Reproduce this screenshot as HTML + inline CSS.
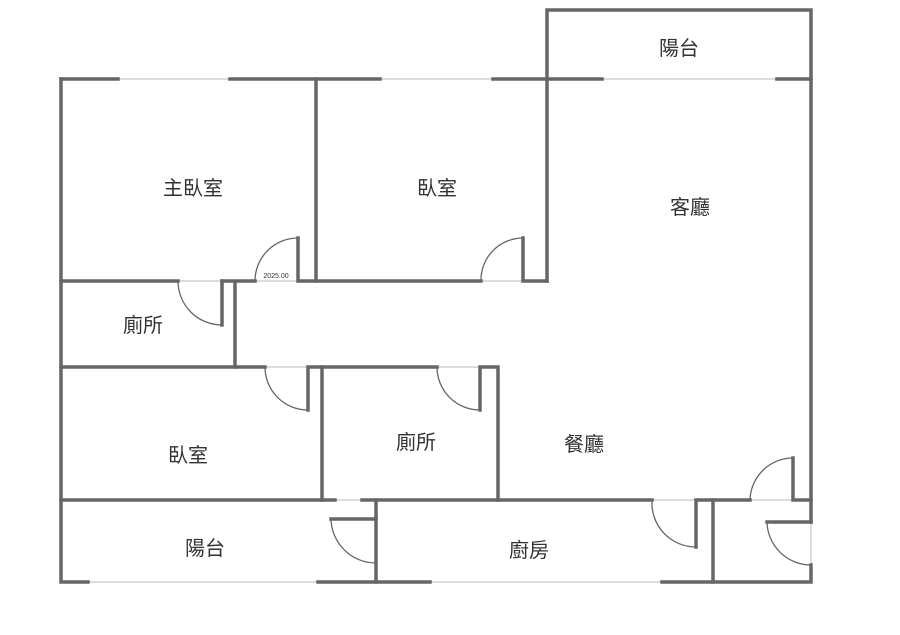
<!DOCTYPE html>
<html><head><meta charset="utf-8"><style>
html,body{margin:0;padding:0;background:#fff;width:900px;height:635px;overflow:hidden}
text{font-family:"Liberation Sans","Noto Sans CJK TC",sans-serif;fill:#333;font-size:20px;text-anchor:middle}
</style></head><body>
<svg width="900" height="635" viewBox="0 0 900 635" xmlns="http://www.w3.org/2000/svg">
<g stroke="#d0d0d0" stroke-width="1.5" fill="none">
<line x1="118" y1="79" x2="230" y2="79"/>
<line x1="380" y1="79" x2="493" y2="79"/>
<line x1="602" y1="79" x2="777" y2="79"/>
<line x1="88" y1="582" x2="318" y2="582"/>
<line x1="430" y1="582" x2="662" y2="582"/>
<line x1="178" y1="281" x2="222" y2="281"/>
<line x1="255" y1="281" x2="298" y2="281"/>
<line x1="481" y1="281" x2="523" y2="281"/>
<line x1="265" y1="367" x2="308" y2="367"/>
<line x1="437" y1="367" x2="480" y2="367"/>
<line x1="335" y1="500" x2="362" y2="500"/>
<line x1="652" y1="500" x2="696" y2="500"/>
<line x1="750" y1="500" x2="793" y2="500"/>
<line x1="376" y1="519" x2="376" y2="563"/>
<line x1="811" y1="522" x2="811" y2="565"/>
</g>
<g stroke="#666" stroke-width="3.5" fill="none" stroke-linecap="square">
<path d="M61 79 H118 M230 79 H380 M493 79 H547"/>
<path d="M61 79 V582 H88 M318 582 H430 M662 582 H811 V565"/>
<path d="M811 522 V10 H547 V281"/>
<path d="M547 79 H602 M777 79 H811"/>
<line x1="316" y1="79" x2="316" y2="281"/>
<path d="M61 281 H178 M222 281 H255"/>
<path d="M298 238 V281 H481"/>
<path d="M523 238 V281 H547"/>
<path d="M222 281 V325"/>
<line x1="235" y1="283" x2="235" y2="367"/>
<path d="M61 367 H265"/>
<path d="M308 410 V367 H322 V500"/>
<path d="M322 367 H437"/>
<path d="M480 410 V367 H498 V500"/>
<path d="M61 500 H335 M362 500 H652"/>
<path d="M696 547 V500 H750"/>
<path d="M793 458 V500 H811"/>
<line x1="713" y1="500" x2="713" y2="582"/>
<line x1="376" y1="500" x2="376" y2="582"/>
<path d="M331 519 H376"/>
<path d="M767 522 H811"/>
</g>
<g stroke="#666" stroke-width="1.3" fill="none">
<path d="M222 325 A44 44 0 0 1 178 281"/>
<path d="M255 281 A43 43 0 0 1 298 238"/>
<path d="M481 281 A42 42 0 0 1 523 238"/>
<path d="M265 367 A43 43 0 0 0 308 410"/>
<path d="M437 367 A43 43 0 0 0 480 410"/>
<path d="M331 519 A45 45 0 0 0 376 563"/>
<path d="M652 500 A44 44 0 0 0 696 547"/>
<path d="M750 500 A43 43 0 0 1 793 458"/>
<path d="M767 522 A44 44 0 0 0 811 565"/>
</g>
<text x="193" y="195">主臥室</text>
<text x="437" y="195">臥室</text>
<text x="679" y="55">陽台</text>
<text x="690" y="214">客廳</text>
<text x="143" y="332">廁所</text>
<text x="188" y="462">臥室</text>
<text x="416" y="449">廁所</text>
<text x="584" y="451">餐廳</text>
<text x="205" y="555">陽台</text>
<text x="529" y="557">廚房</text>
<text x="276" y="278" style="font-size:7px">2025.00</text>
</svg>
</body></html>
